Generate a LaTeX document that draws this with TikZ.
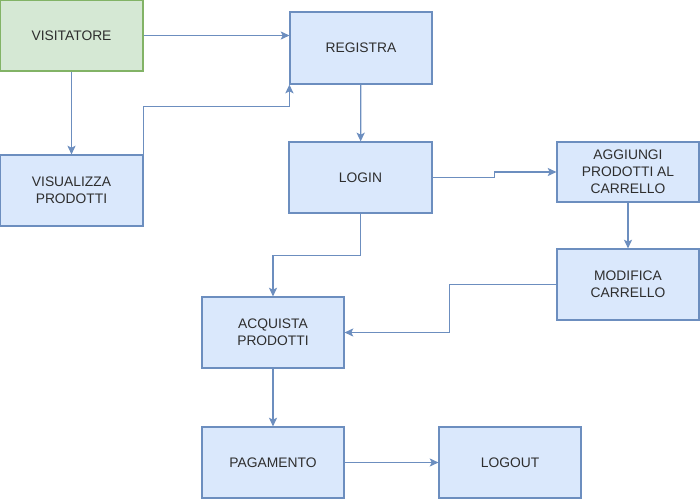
\documentclass[tikz,border=0pt]{standalone}
\usepackage{fontspec}
\setmainfont{Liberation Sans}
\usepackage{xcolor}
\usepackage{tikz}
\usetikzlibrary{arrows.meta, positioning, calc}
\definecolor{boxblue}{HTML}{DAE8FC}
\definecolor{lineblue}{HTML}{6C8EBF}
\definecolor{boxgreen}{HTML}{D5E8D4}
\definecolor{linegreen}{HTML}{82B366}

\begin{document}
\begin{tikzpicture}[
    x=0.03cm, y=-0.03cm,
    box/.style={rectangle, draw=lineblue, fill=boxblue, line width=1pt, minimum width=142*0.03cm, minimum height=71*0.03cm, align=center, inner sep=0pt, text=black!82, font=\fontsize{11.8}{14.6}\selectfont},
    arrow/.style={-{Stealth[length=7.5pt, width=7pt, inset=1.8pt]}, draw=lineblue, line width=1.05pt}
]
\useasboundingbox (0,0) rectangle (700,499);

\node[box, draw=linegreen, fill=boxgreen, minimum width=143*0.03cm] (V) at (71.5,35.5) {VISITATORE};
\node[box, minimum height=72*0.03cm] (R) at (361,48) {REGISTRA};
\node[box, minimum width=143*0.03cm] (P) at (71.5,190.5) {VISUALIZZA\\PRODOTTI};
\node[box, minimum width=143*0.03cm] (L) at (360.5,177.5) {LOGIN};
\node[box, minimum height=60*0.03cm] (A) at (628,172) {AGGIUNGI\\PRODOTTI AL\\CARRELLO};
\node[box] (M) at (628,284.5) {MODIFICA\\CARRELLO};
\node[box] (Q) at (273,332.5) {ACQUISTA\\PRODOTTI};
\node[box] (G) at (273,462.5) {PAGAMENTO};
\node[box] (O) at (510,462.5) {LOGOUT};

\draw[arrow] (V.east) -- (V.east -| R.west);
\draw[arrow] (V) -- (P);
\draw[arrow] (P.north east) -- ++(0,-48) -| (R.south west);
\draw[arrow] (R) -- (L);
\draw[arrow] (L.east) -- ++(62,0) |- (A.west);
\draw[arrow] (A) -- (M);
\draw[arrow] (M.west) -- ++(-107,0) |- (Q.east);
\draw[arrow] (L.south) -- ++(0,42) -| (Q.north);
\draw[arrow] (Q) -- (G);
\draw[arrow] (G) -- (O);
\end{tikzpicture}
\end{document}
